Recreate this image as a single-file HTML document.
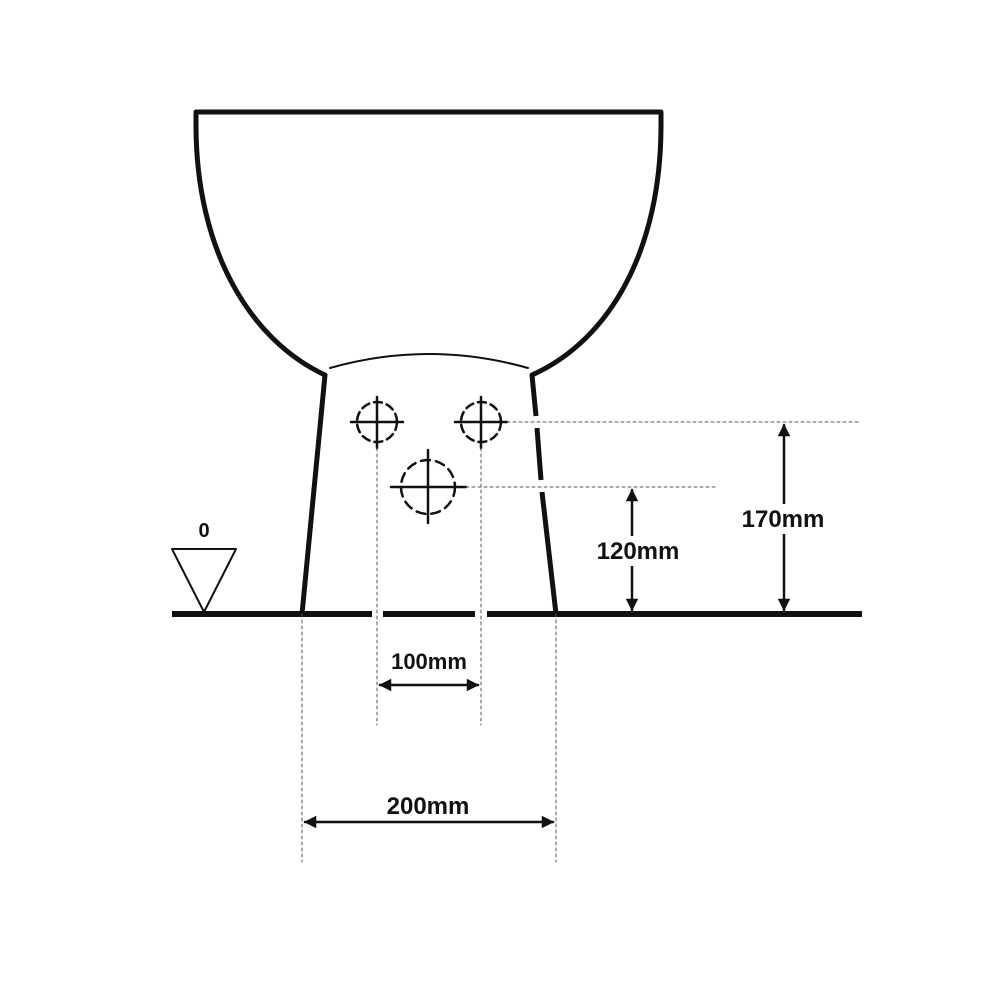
<!DOCTYPE html>
<html><head><meta charset="utf-8"><style>html,body{margin:0;padding:0;background:#fff}svg{display:block}text{font-family:"Liberation Sans",sans-serif;font-weight:bold;fill:#111}</style></head>
<body>
<svg width="1000" height="1000" viewBox="0 0 1000 1000" xmlns="http://www.w3.org/2000/svg">
<defs>
<marker id="a" viewBox="0 0 10 10" refX="9" refY="5" markerWidth="6" markerHeight="5" orient="auto-start-reverse"><path d="M0,0 L10,5 L0,10 z" fill="#111"/></marker>
</defs>
<g fill="none" stroke="#111" stroke-linecap="round" stroke-linejoin="round">
<path d="M325,375 C250,340 196,250 196,125 L196,112 L661,112 L661,125 C661,250 610,340 532,375" stroke-width="5"/>
<path d="M330,368 Q429,340 528,368" stroke-width="2"/>
<path d="M325,375 L302,614" stroke-width="5"/>
<path d="M532,375 L536,416 M537,428 L541,480 M542,492 L556,614" stroke-width="5" stroke-linecap="butt"/>
<path d="M172,614 L372,614 M383,614 L475,614 M487,614 L862,614" stroke-width="6" stroke-linecap="butt"/>
<path d="M172,549 L236,549 L204,612 Z" stroke-width="2"/>
<g stroke-width="2.5">
<circle cx="377" cy="422" r="20" stroke-dasharray="8,5"/>
<circle cx="481" cy="422" r="20" stroke-dasharray="8,5"/>
<circle cx="428" cy="487" r="27" stroke-dasharray="9,6"/>
<path d="M351,422 L403,422 M377,397 L377,448 M455,422 L507,422 M481,397 L481,448 M391,487 L466,487 M428,450 L428,523"/>
</g>
<g stroke-width="1" stroke-dasharray="3,3" stroke="#555">
<path d="M507,422 L860,422 M466,487 L715,487 M377,448 L377,725 M481,448 L481,725 M302,614 L302,862 M556,614 L556,862"/>
</g>
<g stroke-width="2.5">
<path d="M784,425 L784,610" marker-start="url(#a)" marker-end="url(#a)"/>
<path d="M632,490 L632,610" marker-start="url(#a)" marker-end="url(#a)"/>
<path d="M380,685 L478,685" marker-start="url(#a)" marker-end="url(#a)"/>
<path d="M305,822 L553,822" marker-start="url(#a)" marker-end="url(#a)"/>
</g>
</g>
<rect x="734" y="504" width="100" height="30" fill="#fff"/>
<rect x="588" y="536" width="100" height="30" fill="#fff"/>
<text x="204" y="537" font-size="20" text-anchor="middle">0</text>
<text x="783" y="527" font-size="24" text-anchor="middle">170mm</text>
<text x="638" y="559" font-size="24" text-anchor="middle">120mm</text>
<text x="429" y="669" font-size="22" text-anchor="middle">100mm</text>
<text x="428" y="814" font-size="24" text-anchor="middle">200mm</text>
</svg>
</body></html>
